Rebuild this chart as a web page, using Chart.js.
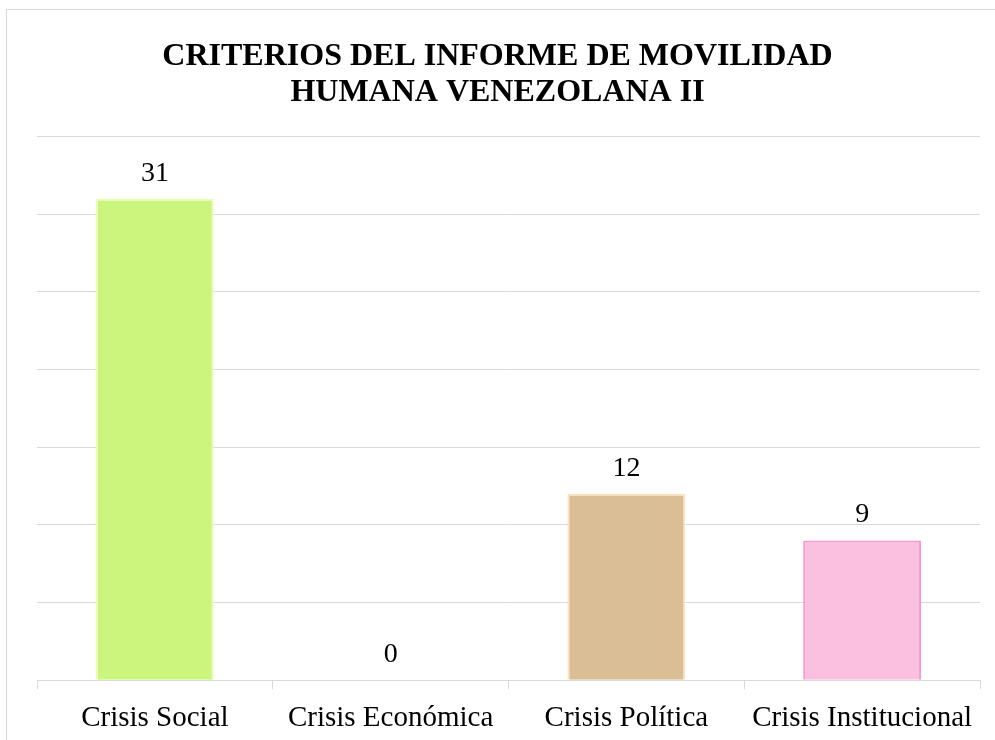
<!DOCTYPE html>
<html>
<head>
<meta charset="utf-8">
<script src="https://cdn.jsdelivr.net/npm/chart.js@4.4.1/dist/chart.umd.min.js"></script>
<style>
    body { margin: 0; background: #fff; overflow: hidden; }
    #wrap { position: relative; width: 995px; height: 740px; overflow: hidden; }
    #frame { position: absolute; left: 6px; top: 9px; width: 1000px; height: 760px; border: 1px solid #d9d9d9; pointer-events: none; }
</style>
</head>
<body>
<div id="wrap">
    <canvas id="crisisChart" width="995" height="760"></canvas>
    <div id="frame"></div>
</div>
<script>
const categories = ['Crisis Social', 'Crisis Económica', 'Crisis Política', 'Crisis Institucional'];
const counts = [31, 0, 12, 9];
const fillColors = ['#ccf57e', '#ccf57e', '#dabe96', '#fbbfe0'];
const edgeColors = ['#e8ffb8', '#e8ffb8', '#fde3c0', '#f79ac9'];
const titleLines = ['CRITERIOS DEL INFORME DE MOVILIDAD', 'HUMANA VENEZOLANA II'];

// draw the value above each bar
const valueLabels = {
    id: 'valueLabels',
    afterDatasetsDraw(chart) {
        const ctx = chart.ctx;
        const meta = chart.getDatasetMeta(0);
        ctx.save();
        ctx.font = '28px "Liberation Serif", "Times New Roman", serif';
        ctx.fillStyle = '#000';
        ctx.textAlign = 'center';
        ctx.textBaseline = 'alphabetic';
        meta.data.forEach((bar, i) => {
            ctx.fillText(String(counts[i]), bar.x, bar.y - 18);
        });
        ctx.restore();
    }
};

const ctx = document.getElementById('crisisChart').getContext('2d');
new Chart(ctx, {
    type: 'bar',
    data: {
        labels: categories,
        datasets: [{
            data: counts,
            backgroundColor: fillColors,
            borderColor: edgeColors,
            borderWidth: 2,
            barPercentage: 0.5,
            categoryPercentage: 1
        }]
    },
    options: {
        responsive: false,
        animation: false,
        layout: { padding: { left: 15, right: 15, top: 0, bottom: 12 } },
        plugins: {
            legend: { display: false },
            tooltip: { enabled: false },
            title: {
                display: true,
                text: titleLines,
                color: '#000',
                font: { family: '"Liberation Serif", "Times New Roman", serif', size: 32, weight: 'bold', lineHeight: 1.15 },
                padding: { top: 38, bottom: 25 }
            }
        },
        scales: {
            x: {
                grid: { offset: true, drawOnChartArea: false, color: '#d9d9d9', tickLength: 9 },
                border: { color: '#d9d9d9' },
                ticks: {
                    color: '#000',
                    padding: 12,
                    font: { family: '"Liberation Serif", "Times New Roman", serif', size: 29 }
                }
            },
            y: {
                min: 0,
                max: 35,
                ticks: { stepSize: 5, display: false },
                grid: { color: '#d9d9d9', drawTicks: false },
                border: { display: false },
                afterFit(scale) { scale.width = 22; }
            }
        }
    },
    plugins: [valueLabels]
});
</script>
</body>
</html>
